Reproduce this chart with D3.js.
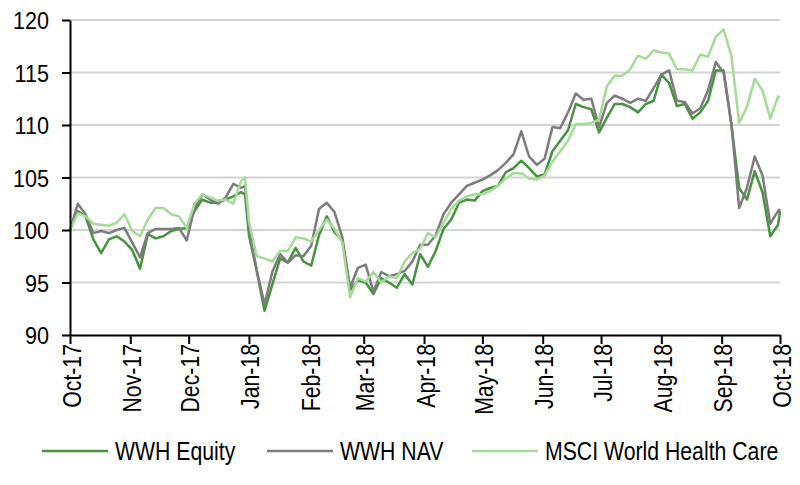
<!DOCTYPE html>
<html>
<head>
<meta charset="utf-8">
<script src="https://cdn.jsdelivr.net/npm/d3@7"></script>
<style>
  body { margin: 0; background: #fff; }
  text { font-family: "Liberation Sans", Arial, sans-serif; fill: #000; }
</style>
</head>
<body>
<div id="chart"></div>
<script>
// Dates (every ~4 days) and the three indexed series
var dates = [
  "2017-10-01","2017-10-05","2017-10-09","2017-10-13","2017-10-17","2017-10-21","2017-10-25","2017-10-29",
  "2017-11-02","2017-11-06","2017-11-10","2017-11-14","2017-11-18","2017-11-22","2017-11-26","2017-11-30",
  "2017-12-04","2017-12-08","2017-12-12","2017-12-16","2017-12-20","2017-12-24","2017-12-28","2017-12-30",
  "2018-01-01","2018-01-05","2018-01-09","2018-01-13","2018-01-17","2018-01-21","2018-01-25","2018-01-29",
  "2018-02-02","2018-02-06","2018-02-10","2018-02-14","2018-02-18","2018-02-22","2018-02-26",
  "2018-03-02","2018-03-06","2018-03-10","2018-03-14","2018-03-18","2018-03-22","2018-03-26","2018-03-30",
  "2018-04-03","2018-04-07","2018-04-11","2018-04-15","2018-04-19","2018-04-23","2018-04-27",
  "2018-05-01","2018-05-05","2018-05-09","2018-05-13","2018-05-17","2018-05-21","2018-05-25","2018-05-29",
  "2018-06-02","2018-06-06","2018-06-10","2018-06-14","2018-06-18","2018-06-22","2018-06-26","2018-06-30",
  "2018-07-04","2018-07-08","2018-07-12","2018-07-16","2018-07-20","2018-07-24","2018-07-28",
  "2018-08-01","2018-08-05","2018-08-09","2018-08-13","2018-08-17","2018-08-21","2018-08-25","2018-08-29",
  "2018-09-02","2018-09-06","2018-09-10","2018-09-14","2018-09-18","2018-09-22","2018-09-26","2018-09-30",
  "2018-10-01"
];

var wwhEquity = [
  100, 101.8, 101.3, 99.1, 97.8, 99.1, 99.4, 98.9,
  98.1, 96.3, 99.6, 99.2, 99.4, 99.9, 100.1, 100.2,
  101.8, 102.9, 102.6, 102.6, 102.9, 103.2, 103.6, 103.4,
  99.5, 96.1, 92.3, 94.8, 97.3, 96.9, 98.3, 97,
  96.6, 99.5, 101.3, 99.8, 99, 94.3, 95.2,
  95, 93.9, 95.4, 95, 94.5, 95.8, 94.8, 97.7,
  96.5, 98, 100.1, 101, 102.6, 102.9, 102.8,
  103.7, 104, 104.2, 105.5, 105.9, 106.6, 105.9, 105.1,
  105.3, 107.5, 108.5, 109.5, 112, 111.7, 111.5, 109.3,
  110.7, 112, 112, 111.7, 111.2, 112, 112.3,
  114.8, 114, 111.8, 112, 110.6, 111.2, 112.3, 115.2,
  115.2, 110, 104, 102.9, 105.6, 103.6, 99.4, 100.5,
  101.8
];

var wwhNav = [
  100, 102.5, 101.5, 99.7, 99.9, 99.7, 100, 100.2,
  98.8, 97.4, 99.7, 100.1, 100.1, 100.1, 100.2, 99,
  102.1, 103.4, 102.9, 102.5, 103.1, 104.4, 104, 104.2,
  100, 96.2, 92.9, 96, 97.7, 96.9, 97.6, 97.5,
  98.5, 102, 102.6, 101.7, 99.3, 94.5, 96.4,
  96.7, 94.1, 96, 95.6, 95.8, 96.1, 97, 98.6,
  98.6, 99.5, 101.5, 102.6, 103.4, 104.2, 104.5,
  104.8, 105.2, 105.7, 106.4, 107.2, 109.4, 107, 106.2,
  106.8, 109.8, 109.7, 111.2, 113, 112.4, 112.5, 109.8,
  112.1, 112.8, 112.5, 112.1, 112.5, 112.3, 113.5,
  114.8, 115.2, 112.3, 112.2, 111.1, 111.6, 113.3, 116,
  115, 110.2, 102.1, 104, 107, 105.2, 100.6, 101.8,
  102
];

var msciHealthCare = [
  100, 101.6, 101.3, 100.6, 100.5, 100.4, 100.7, 101.5,
  99.9, 99.4, 101, 102.1, 102.1, 101.5, 101.3, 100.2,
  102.5, 103.4, 103.1, 102.8, 102.9, 102.5, 104.7, 105,
  100.8, 97.5, 97.3, 97, 98, 98, 99.3, 99.2,
  98.9, 100, 101, 100.1, 98.8, 93.6, 95.4,
  95.1, 96, 95, 95.6, 95.4, 97, 97.8, 98.2,
  99.7, 99.3, 100.7, 102, 102.8, 103.2, 103.4,
  103.4, 103.7, 104.2, 104.9, 105.4, 105.4, 104.9, 104.8,
  105.2, 106.5, 107.5, 108.5, 110.1, 110.1, 110.2, 110.5,
  113.7, 114.7, 114.7, 115.3, 116.6, 116.3, 117.1,
  116.9, 116.8, 115.3, 115.3, 115.2, 116.7, 116.5, 118.4,
  119.1, 116.6, 110.2, 111.7, 114.4, 113.3, 110.6, 112.7,
  112.6
];

var seriesNames = ["WWH Equity", "WWH NAV", "MSCI World Health Care"];
var seriesColors = ["#45933d", "#7c7c7c", "#a3dc96"];
var yTicks = [90, 95, 100, 105, 110, 115, 120];

var width = 800, height = 485;
var parse = d3.timeParse("%Y-%m-%d");
var dateObjs = dates.map(parse);

var svg = d3.select("#chart").append("svg")
    .attr("width", width)
    .attr("height", height);

var x = d3.scaleTime()
    .domain([parse("2017-10-01"), parse("2018-10-01")])
    .range([70, 780]);

var y = d3.scaleLinear()
    .domain([90, 120])
    .range([335, 20]);

// gridlines
svg.append("g")
  .selectAll("line")
  .data(yTicks.filter(function(d) { return d > 90; }))
  .enter().append("line")
    .attr("x1", x.range()[0])
    .attr("x2", x.range()[1])
    .attr("y1", function(d) { return y(d); })
    .attr("y2", function(d) { return y(d); })
    .attr("stroke", "#d3d3d3")
    .attr("stroke-width", 2);

// lines
var line = d3.line()
    .x(function(d) { return x(d[0]); })
    .y(function(d) { return y(d[1]); });

[wwhEquity, wwhNav, msciHealthCare].forEach(function(vals, i) {
  svg.append("path")
    .datum(dateObjs.map(function(dt, j) { return [dt, vals[j]]; }))
    .attr("fill", "none")
    .attr("stroke", seriesColors[i])
    .attr("stroke-width", 2.5)
    .attr("stroke-linejoin", "round")
    .attr("d", line);
});

// y axis
var yAxis = svg.append("g")
    .attr("transform", "translate(70,0)")
    .call(d3.axisLeft(y).tickValues(yTicks).tickSize(8).tickSizeOuter(0));

yAxis.select(".domain").attr("stroke", "#000").attr("stroke-width", 2);
yAxis.selectAll(".tick line").attr("stroke", "#000").attr("stroke-width", 2);
yAxis.selectAll(".tick text")
    .attr("x", 0)
    .attr("dy", "0.36em")
    .attr("font-size", 24)
    .attr("text-anchor", "end")
    .attr("transform", "translate(-21,0) scale(0.9,1)");

// x axis
var xAxis = svg.append("g")
    .attr("transform", "translate(0,335)")
    .call(d3.axisBottom(x)
      .ticks(d3.timeMonth.every(1))
      .tickFormat(d3.timeFormat("%b-%y"))
      .tickSize(9)
      .tickSizeOuter(0));

xAxis.select(".domain").attr("stroke", "#000").attr("stroke-width", 2);
xAxis.selectAll(".tick line").attr("stroke", "#000").attr("stroke-width", 2);
xAxis.selectAll(".tick text")
    .attr("x", 0)
    .attr("y", 0)
    .attr("dy", "0.4em")
    .attr("font-size", 25)
    .attr("text-anchor", "end")
    .attr("transform", "translate(0,9) rotate(-90) scale(0.85,1)");

// legend
var legendX = [42, 267, 472];
var legend = svg.append("g")
  .selectAll("g")
  .data(seriesNames)
  .enter().append("g")
    .attr("transform", function(d, i) { return "translate(" + legendX[i] + ",451)"; });

legend.append("line")
    .attr("x1", 0)
    .attr("x2", 66)
    .attr("stroke", function(d, i) { return seriesColors[i]; })
    .attr("stroke-width", 2.5);

legend.append("text")
    .attr("font-size", 25)
    .attr("transform", "translate(73,9) scale(0.85,1)")
    .text(function(d) { return d; });
</script>
</body>
</html>
